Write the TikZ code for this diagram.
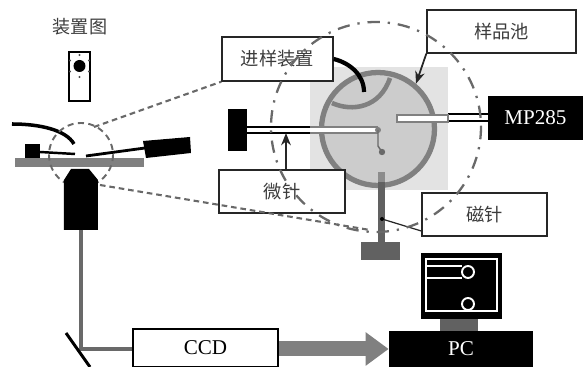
\documentclass[tikz,border=0pt]{standalone}
\usepackage{fontspec}
\usepackage{tikz}
\usetikzlibrary{arrows.meta}
\setmainfont{Liberation Serif}
\newfontfamily\cjk{Noto Sans CJK SC}
\definecolor{opticGray}{RGB}{105,105,105}
\definecolor{cellGray}{RGB}{128,128,128}
\definecolor{textGray}{RGB}{60,60,60}
\tikzset{
  labelbox/.style={draw=black!85, fill=white, line width=0.8pt, inner sep=0pt, text=textGray, font=\cjk\fontsize{10.4}{12}\selectfont},
  blackbox/.style={fill=black, inner sep=0pt, text=white, font=\fontsize{12}{14}\selectfont},
  zoomline/.style={opticGray, line width=1.2pt, dash pattern=on 3.2pt off 2.2pt},
  pointer/.style={-{Stealth[length=7pt,width=5.5pt]}, black!85, line width=1pt}
}
\begin{document}
\begin{tikzpicture}[x=0.02cm,y=-0.02cm]
        \useasboundingbox (0,0) rectangle (583,367);
        % left: slide and title
        \node[text=textGray, font=\cjk\fontsize{10.3}{12}\selectfont] (slideTitle) at (80,27) {装置图};
        \draw[line width=1.2pt, fill=white] (69,52) rectangle (90,101);
        \fill (79.5,66) circle (6);
        \foreach \a in {30,90,150,210,270,330}
          \fill[black!70] (79.5,66) ++(\a:11) circle (1.2);
        % left: stage
        \fill[cellGray] (15,158) rectangle (144,167);
        \fill (25,144) rectangle (40,158);
        \draw[line width=1.4pt] (40,152) -- (75,154);
        \draw[line width=1.6pt] (86,156) -- (145,148);
        \fill (143,141) -- (190,137) -- (191,153) -- (146,158) -- cycle;
        \draw[line width=2pt] (12,124) .. controls (40,124) and (66,130) .. (74,144);
        \draw[opticGray, line width=1.1pt, dash pattern=on 3.5pt off 2.5pt] (81,155) circle (32);
        % objective: bottom (81,230)
        \fill (71,169) -- (89,169) -- (98,180) -- (98,230) -- (64,230) -- (64,180) -- cycle;
        \coordinate (objectiveEnd) at (81,230);
        % right: light square and cell
        \fill[black!11] (310,67) rectangle (448,190);
        \node[circle, draw=cellGray, fill=black!20, line width=3pt, minimum size=2.26cm, inner sep=0pt] (cell) at (378,129) {};
        \draw[cellGray, line width=2.6pt] (332,103) .. controls (352,112) and (380,108) .. (390,78);
        % needle on the left
        \node[fill=black, minimum width=0.38cm, minimum height=0.84cm, inner sep=0pt] (needleBlock) at (237.5,130) {};
        \draw[line width=1pt] (needleBlock.east |- 0,127) -- (310,127);
        \draw[line width=1pt] (needleBlock.east |- 0,133) -- (310,133);
        \draw[cellGray, line width=1.1pt, fill=white] (310,127) -- (377,127) -- (377,133) -- (310,133);
        \coordinate (needleMark) at (286,133);
        \fill[cellGray] (378,130) circle (3);
        \draw[opticGray, line width=0.8pt] (378,130) -- (378,146) -- (382,152);
        \fill[opticGray] (382,152) circle (3.2);
        % MP285 and its rod
        \node[blackbox, minimum width=1.9cm, minimum height=0.88cm] (mp) at (535.5,118) {MP285};
        \draw[line width=1pt] (448,114) -- (mp.west |- 0,114);
        \draw[line width=1pt] (448,121) -- (mp.west |- 0,121);
        \draw[cellGray, line width=1.1pt, fill=white] (448,115) -- (397,115) -- (397,122) -- (448,122) -- cycle;
        % magnet
        \fill[black!45] (378,172) rectangle (385,182);
        \fill[black!62] (378,182) rectangle (385,242);
        \fill[black!62] (361,242) rectangle (400,260);
        \coordinate (magnetMark) at (382,219);
        % label boxes
        \node[labelbox, minimum width=2.22cm, minimum height=0.88cm] (loaderBox) at (277.5,59) {进样装置};
        \node[labelbox, minimum width=2.98cm, minimum height=0.86cm] (cellBox) at (501.5,31.5) {样品池};
        \node[labelbox, minimum width=2.52cm, minimum height=0.86cm] (needleBox) at (282,191.5) {微针};
        \node[labelbox, minimum width=2.5cm, minimum height=0.86cm] (magnetBox) at (484.5,214.5) {磁针};
        \draw[line width=2.4pt] (loaderBox.east |- 0,59) .. controls (350,63) and (364,75) .. (364,92);
        \draw[pointer] (cellBox.south west) -- (cell.50);
        \draw[pointer] (needleBox.north -| needleMark) -- (needleMark);
        \draw[black!85, line width=0.7pt] (magnetBox.west |- 0,231) -- (magnetMark);
        \fill (magnetMark) circle (2);
        % zoom lines and dash-dot circle
        \draw[zoomline] (94,127) -- (loaderBox.south west);
        \draw[zoomline] (100,185) -- (370,230);
        \draw[opticGray, line width=1.3pt, dash pattern=on 7pt off 4.5pt on 1.3pt off 4.5pt] (376,127) circle (105);
        % optical path
        \node[draw=black, fill=white, line width=1.3pt, inner sep=0pt, minimum width=2.9cm, minimum height=0.76cm, font=\fontsize{12}{14}\selectfont] (ccd) at (205.5,348) {CCD};
        \node[blackbox, minimum width=2.88cm, minimum height=0.72cm] (pc) at (461,349) {PC};
        \coordinate (mirrorPoint) at (81,349);
        \draw[opticGray, line width=2.3pt] (objectiveEnd) -- (mirrorPoint) -- (ccd.west |- mirrorPoint);
        \draw[line width=1.7pt] (66,333) -- (90,367);
        \draw[-{Triangle[length=0.46cm,width=0.64cm]}, cellGray, line width=0.3cm] (ccd.east |- pc.west) -- (pc.west);
        % computer
        \fill[black!62] (440,319) rectangle (478,331);
        \fill (421,253) rectangle (502,319);
        \draw[white, line width=0.8pt] (426,259) rectangle (497,311);
        \draw[white, line width=0.8pt] (426,266) -- (462,266) (426,278) -- (462,278);
        \draw[white, line width=1.1pt] (468,272) circle (6);
        \draw[white, line width=1.1pt] (468,304) circle (6);
      \end{tikzpicture}
\end{document}
